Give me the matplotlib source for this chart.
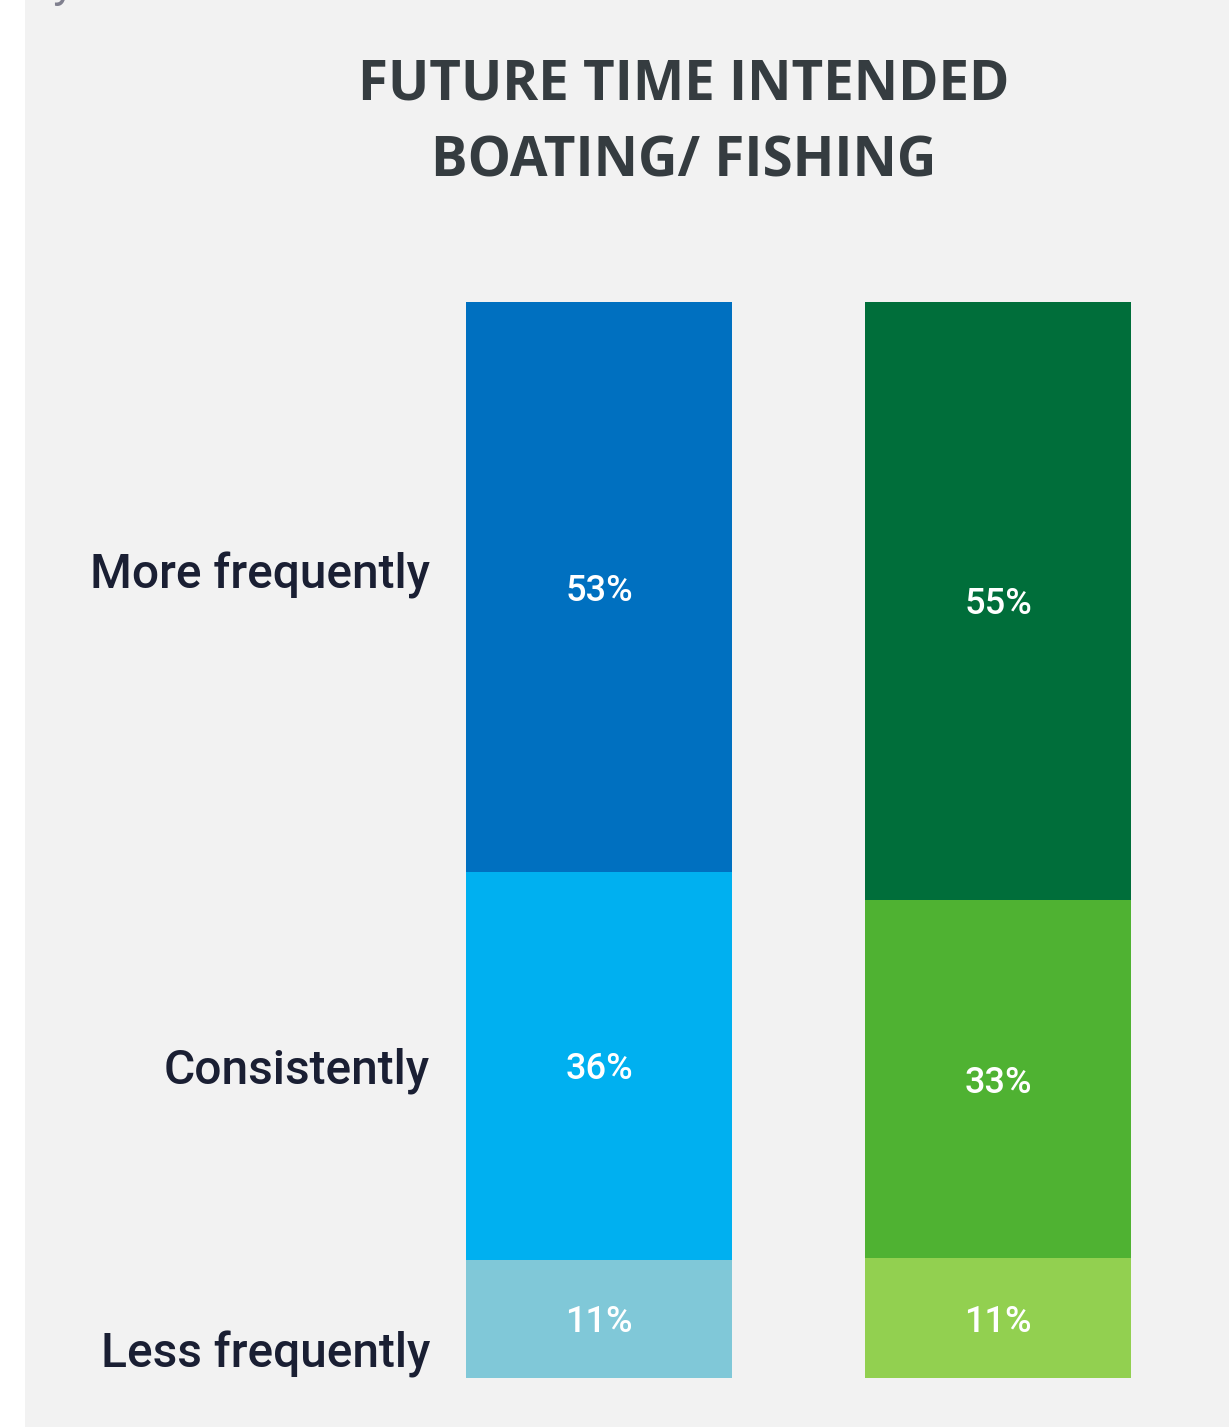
import matplotlib.pyplot as plt

# — Data —
groups     = ["Boating", "Fishing"]
categories = ["Less frequently", "Consistently", "More frequently"]   # bottom to top
boating    = [11, 36, 53]
fishing    = [11, 33, 55]

BLUES  = ["#80c8d8", "#00b0f0", "#0070c0"]
GREENS = ["#92d050", "#4fb232", "#006e3a"]
BG     = "#f2f2f2"

W, H = 1229, 1427
fig = plt.figure(figsize=(W / 100, H / 100), dpi=100)
fig.patch.set_facecolor("white")

# grey panel behind everything
fig.add_artist(plt.Rectangle((25 / W, 0), 1 - 25 / W, 1, transform=fig.transFigure,
                             facecolor=BG, edgecolor="none", zorder=0))

# leftover descender from the heading above the panel
fig.text(52 / W, 1 + 3 / H, "y", fontsize=34, family="Roboto", color="#80808f",
         va="baseline", ha="left")

ax = fig.add_axes([466 / W, (H - 1378) / H, 665 / W, 1076 / H])
ax.set_facecolor("none")
ax.set_xlim(-1 / 3, 4 / 3)
ax.set_ylim(0, 1)
ax.axis("off")

for i, (vals, cols) in enumerate([(boating, BLUES), (fishing, GREENS)]):
    total = float(sum(vals))
    bottom = 0.0
    for v, c in zip(vals, cols):
        h = v / total
        ax.bar(i, h, width=2 / 3, bottom=bottom, color=c, edgecolor="none")
        ax.text(i, bottom + h / 2, f"{v}%", ha="center", va="center_baseline",
                color="white", fontsize=26, family="Roboto", weight="medium")
        bottom += h

# category labels to the left of the bars
label_y = {"More frequently": 0.734, "Consistently": 0.274, "Less frequently": 0.0093}
for name in categories:
    fig.text(430 / W, (H - 1378) / H + label_y[name] * 1076 / H, name,
             ha="right", va="baseline", fontsize=34.5, family="Roboto",
             weight="medium", color="#1a1f33")

fig.text(684 / W, 1 - 85 / H, "FUTURE TIME INTENDED", ha="center", va="center",
         fontsize=39.3, family="Open Sans", weight="bold", color="#353c40")
fig.text(684 / W, 1 - 162 / H, "BOATING/ FISHING", ha="center", va="center",
         fontsize=39.3, family="Open Sans", weight="bold", color="#353c40")

fig.savefig("out.png", dpi=100, facecolor=fig.get_facecolor())
